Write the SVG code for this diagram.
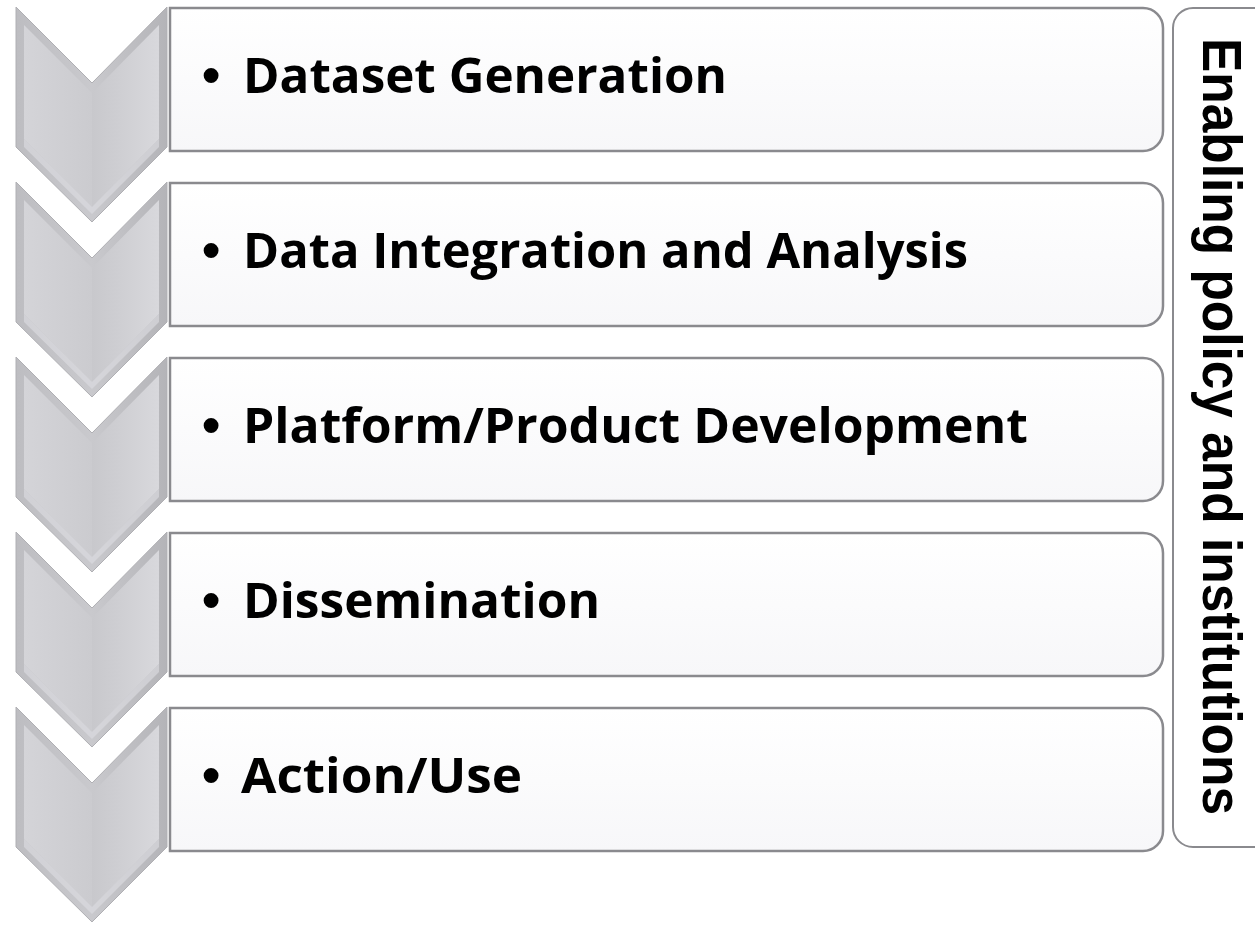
<svg xmlns="http://www.w3.org/2000/svg" width="1255" height="925" viewBox="0 0 1255 925">
  <defs>
    <linearGradient id="chevOuter" x1="0" y1="0" x2="1" y2="0">
      <stop offset="0" stop-color="#bdbdc1"/>
      <stop offset="0.5" stop-color="#c9c9cd"/>
      <stop offset="1" stop-color="#b4b4b8"/>
    </linearGradient>
    <linearGradient id="chevLeft" x1="0" y1="0" x2="1" y2="0">
      <stop offset="0" stop-color="#d4d4d8"/>
      <stop offset="1" stop-color="#cbcbcf"/>
    </linearGradient>
    <linearGradient id="chevRight" x1="0" y1="0" x2="1" y2="0">
      <stop offset="0" stop-color="#c8c8cc"/>
      <stop offset="1" stop-color="#d8d8dc"/>
    </linearGradient>
    <linearGradient id="boxFill" x1="0" y1="0" x2="0" y2="1">
      <stop offset="0" stop-color="#ffffff"/>
      <stop offset="1" stop-color="#f7f7f9"/>
    </linearGradient>
    <g id="chevron">
      <polygon points="16,0 92,76 167,0 167,140 92,215 16,140" fill="url(#chevOuter)" stroke="#b0b0b4" stroke-width="1"/>
      <polygon points="24,18 92,86 92,200 24,132" fill="url(#chevLeft)"/>
      <polygon points="92,86 159,18 159,132 92,200" fill="url(#chevRight)"/>
      <polygon points="24,132 92,200 159,132 159,140 92,207 24,140" fill="#dedee2" opacity="0.6"/>
    </g>
    <path id="box" d="M170,0 H1143 A20,20 0 0 1 1163,20 V123 A20,20 0 0 1 1143,143 H170 Z"/>
  </defs>
  <style>
    .box { fill: url(#boxFill); stroke: #8a8a8e; stroke-width: 2.5; }
    .lbl { font-family: "Open Sans", "Liberation Sans", sans-serif; font-weight: bold; font-size: 49px; fill: #000; }
    .bul { font-family: "Liberation Sans", sans-serif; font-weight: bold; font-size: 52px; fill: #000; }
    .side { font-family: "Liberation Sans", "Open Sans", sans-serif; font-weight: bold; font-size: 55px; fill: #000; }
  </style>
  <rect width="1255" height="925" fill="#ffffff"/>

  <g id="side-box">
    <rect x="1173" y="8" width="120" height="839" rx="20" ry="20" fill="#ffffff" stroke="#8a8a8e" stroke-width="2"/>
    <text class="side" transform="translate(1203,38) rotate(90)" x="0" y="0" textLength="777" lengthAdjust="spacingAndGlyphs">Enabling policy and institutions</text>
  </g>

  <g id="step1" transform="translate(0,8)">
    <use href="#chevron" transform="translate(0,-1)"/>
    <use href="#box" class="box"/>
    <text class="bul" x="202" y="85">•</text>
    <text class="lbl" x="243" y="85" textLength="484" lengthAdjust="spacingAndGlyphs">Dataset Generation</text>
  </g>
  <g id="step2" transform="translate(0,183)">
    <use href="#chevron" transform="translate(0,-1)"/>
    <use href="#box" class="box"/>
    <text class="bul" x="202" y="85">•</text>
    <text class="lbl" x="243" y="85" textLength="725" lengthAdjust="spacingAndGlyphs">Data Integration and Analysis</text>
  </g>
  <g id="step3" transform="translate(0,358)">
    <use href="#chevron" transform="translate(0,-1)"/>
    <use href="#box" class="box"/>
    <text class="bul" x="202" y="85">•</text>
    <text class="lbl" x="243" y="85" textLength="785" lengthAdjust="spacingAndGlyphs">Platform/Product Development</text>
  </g>
  <g id="step4" transform="translate(0,533)">
    <use href="#chevron" transform="translate(0,-1)"/>
    <use href="#box" class="box"/>
    <text class="bul" x="202" y="85">•</text>
    <text class="lbl" x="243" y="85" textLength="357" lengthAdjust="spacingAndGlyphs">Dissemination</text>
  </g>
  <g id="step5" transform="translate(0,708)">
    <use href="#chevron" transform="translate(0,-1)"/>
    <use href="#box" class="box"/>
    <text class="bul" x="202" y="85">•</text>
    <text class="lbl" x="241" y="85" textLength="281" lengthAdjust="spacingAndGlyphs">Action/Use</text>
  </g>
  <g id="connectors"></g>
</svg>
